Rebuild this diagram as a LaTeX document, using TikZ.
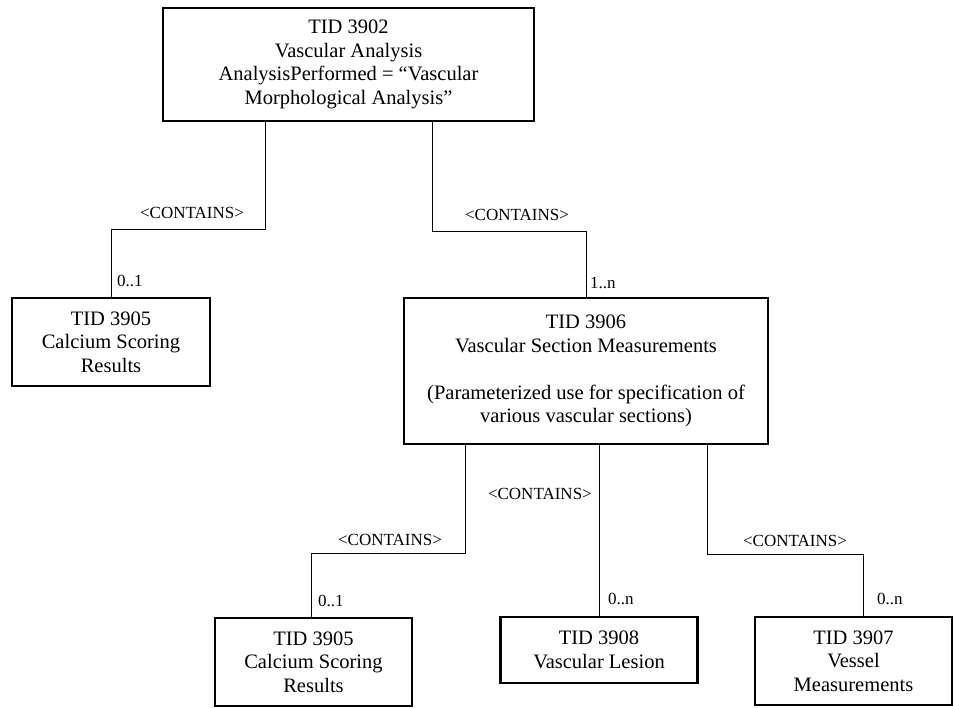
\documentclass[tikz,border=0pt]{standalone}
\usepackage{fontspec}
\setmainfont{Liberation Serif}
\usetikzlibrary{positioning}

\begin{document}
\begin{tikzpicture}[x=1pt, y=-1pt,
      tidbox/.style={draw, line width=2.8pt, align=center, inner sep=2pt,
                     font=\fontsize{20.5}{23.5}\selectfont, minimum width=197pt},
      link/.style={line width=1pt},
      rel/.style={inner sep=0pt, font=\fontsize{17}{20}\selectfont},
      mult/.style={rel, anchor=west}
    ]
    \useasboundingbox (0,0) rectangle (953,708);

    \node[tidbox, minimum width=371pt, minimum height=113pt] (tid3902) at (348.5,64.5) {%
      TID 3902\\
      Vascular Analysis\\
      AnalysisPerformed = “Vascular\\
      Morphological Analysis”};
    \node[tidbox, minimum width=198pt, minimum height=88pt] (tid3905a) at (111,342) {%
      TID 3905\\
      Calcium Scoring\\
      Results};
    \node[tidbox, minimum width=364pt, minimum height=146pt] (tid3906) at (586,371) {%
      TID 3906\\
      Vascular Section Measurements\\[23.5pt]
      (Parameterized use for specification of\\
      various vascular sections)};
    \node[tidbox, minimum height=88pt] (tid3905b) at (313.5,662) {%
      TID 3905\\
      Calcium Scoring\\
      Results};
    \node[tidbox, minimum height=66pt] (tid3908) at (599,650) {%
      TID 3908\\
      Vascular Lesion};
    \node[tidbox, minimum height=88pt] (tid3907) at (853.5,661) {%
      TID 3907\\
      Vessel\\
      Measurements};

    \coordinate (bend1) at (265,230);
    \coordinate (bend2) at (432,232);
    \coordinate (bend3) at (465,553);
    \coordinate (bend4) at (707,554);

    \draw[link] (tid3902.south -| bend1) -- (bend1) -| (tid3905a.north);
    \draw[link] (tid3902.south -| bend2) -- (bend2) -| (tid3906.north);
    \draw[link] (tid3906.south -| bend3) -- (bend3) -| ([xshift=-2.5pt]tid3905b.north);
    \draw[link] (tid3906.south -| tid3908.north) -- (tid3908.north);
    \draw[link] (tid3906.south -| bend4) -- (bend4) -| ([xshift=9.5pt]tid3907.north);

    \node[rel] (rel1) at (192,213) {<CONTAINS>};
    \node[rel] (rel2) at (517,215) {<CONTAINS>};
    \node[rel] (rel3) at (390,540) {<CONTAINS>};
    \node[rel, anchor=east] (rel4) at (592,494) {<CONTAINS>};
    \node[rel] (rel5) at (795,541) {<CONTAINS>};

    \node[mult] (mult1) at (117,281) {0..1};
    \node[mult] (mult2) at (590,283) {1..n};
    \node[mult] (mult3) at (318,601) {0..1};
    \node[mult] (mult4) at (608,599) {0..n};
    \node[mult] (mult5) at (877,599) {0..n};
  \end{tikzpicture}
\end{document}
